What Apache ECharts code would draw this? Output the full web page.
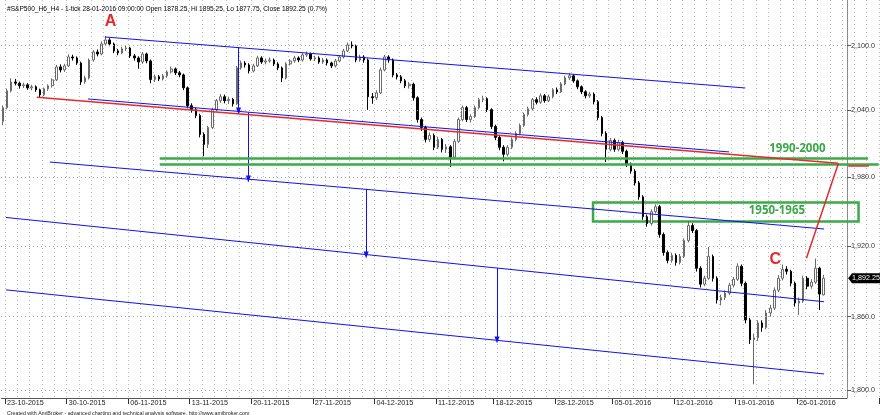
<!DOCTYPE html>
<html><head><meta charset="utf-8">
<script src="https://cdn.jsdelivr.net/npm/echarts@6/dist/echarts.min.js"></script>
<style>html,body{margin:0;padding:0;background:#fff}#c{width:880px;height:415px}</style>
</head><body><div id="c"></div>
<script>
const opens = [2030.0,2042.5,2058.0,2066.2,2065.0,2062.6,2063.5,2060.7,2061.7,2058.9,
2054.3,2059.8,2062.6,2068.1,2080.1,2077.3,2081.1,2089.4,2088.5,2083.8,
2066.2,2069.9,2086.6,2094.1,2092.2,2101.6,2105.4,2101.6,2095.1,2093.2,
2097.0,2097.8,2090.4,2088.5,2084.7,2092.2,2085.7,2068.5,2071.0,2069.0,
2071.8,2075.5,2078.3,2074.6,2072.7,2060.7,2044.3,2040.7,2035.3,2018.2,
2009.2,2024.5,2040.7,2048.9,2052.5,2048.9,2050.0,2046.1,2079.2,2083.8,
2082.0,2076.4,2081.1,2088.5,2084.7,2085.7,2086.6,2082.9,2079.2,2069.9,
2082.9,2085.7,2088.5,2086.6,2091.3,2092.2,2087.6,2088.5,2084.7,2086.6,
2083.8,2081.1,2085.7,2089.4,2095.1,2100.7,2099.7,2086.6,2089.4,2086.6,
2052.5,2051.6,2056.1,2077.3,2089.4,2086.6,2072.7,2070.9,2067.2,2062.6,
2064.0,2051.6,2031.7,2024.5,2013.7,2017.3,2006.6,2013.7,2004.8,2007.0,
1997.7,2011.9,2031.7,2042.5,2031.7,2034.4,2042.5,2049.8,2050.7,2040.7,
2025.4,2015.5,2006.6,2000.3,2006.6,2013.7,2019.1,2026.3,2036.2,2041.6,
2049.8,2047.5,2053.4,2048.9,2052.5,2058.9,2057.0,2064.4,2069.9,2071.8,
2067.2,2061.7,2057.1,2053.4,2055.0,2048.0,2033.5,2019.1,2004.8,2012.8,
2004.8,2011.0,2003.0,1991.5,1985.3,1974.8,1962.5,1945.2,1939.2,1949.5,
1953.9,1929.7,1914.3,1907.5,1911.8,1905.8,1910.9,1924.6,1937.5,1933.1,
1900.8,1887.3,1892.3,1910.9,1892.3,1873.9,1876.0,1879.7,1886.4,1891.4,
1902.5,1888.1,1857.3,1840.9,1842.5,1854.8,1851.0,1863.1,1867.2,1882.2,
1892.3,1899.9,1898.2,1888.1,1871.4,1873.1,1892.3,1885.6,1889.0,1900.8,
1878.25];
const closes = [2042.5,2058.0,2066.2,2065.0,2062.6,2063.5,2060.7,2061.7,2058.9,2054.3,
2059.8,2062.6,2068.1,2080.1,2077.3,2081.1,2089.4,2088.5,2083.8,2066.2,
2069.9,2086.6,2094.1,2092.2,2101.6,2105.4,2101.6,2095.1,2093.2,2097.0,
2097.8,2090.4,2088.5,2084.7,2092.2,2085.7,2068.5,2071.0,2069.0,2071.8,
2075.5,2078.3,2074.6,2072.7,2060.7,2044.3,2040.7,2035.3,2018.2,2009.2,
2024.5,2040.7,2048.9,2052.5,2048.9,2050.0,2046.1,2079.2,2083.8,2082.0,
2076.4,2081.1,2088.5,2084.7,2085.7,2086.6,2082.9,2079.2,2069.9,2082.9,
2085.7,2088.5,2086.6,2091.3,2092.2,2087.6,2088.5,2084.7,2086.6,2083.8,
2081.1,2085.7,2089.4,2095.1,2100.7,2099.7,2086.6,2089.4,2086.6,2052.5,
2051.6,2056.1,2077.3,2089.4,2086.6,2072.7,2070.9,2067.2,2062.6,2064.0,
2051.6,2031.7,2024.5,2013.7,2017.3,2006.6,2013.7,2004.8,2007.0,1997.7,
2011.9,2031.7,2042.5,2031.7,2034.4,2042.5,2049.8,2050.7,2040.7,2025.4,
2015.5,2006.6,2000.3,2006.6,2013.7,2019.1,2026.3,2036.2,2041.6,2049.8,
2047.5,2053.4,2048.9,2052.5,2058.9,2057.0,2064.4,2069.9,2071.8,2067.2,
2061.7,2057.1,2053.4,2055.0,2048.0,2033.5,2019.1,2004.8,2012.8,2004.8,
2011.0,2003.0,1991.5,1985.3,1974.8,1962.5,1945.2,1939.2,1949.5,1953.9,
1929.7,1914.3,1907.5,1911.8,1905.8,1910.9,1924.6,1937.5,1933.1,1900.8,
1887.3,1892.3,1910.9,1892.3,1873.9,1876.0,1879.7,1886.4,1891.4,1902.5,
1888.1,1857.3,1840.9,1842.5,1854.8,1851.0,1863.1,1867.2,1882.2,1892.3,
1899.9,1898.2,1888.1,1871.4,1873.1,1892.3,1885.6,1889.0,1900.8,1878.9,
1892.25];
const lows = [2026.5,2041.0,2056.5,2063.0,2060.0,2060.5,2059.0,2058.5,2057.0,2051.5,
2053.0,2058.0,2061.0,2067.0,2075.0,2075.5,2080.0,2086.0,2082.0,2063.5,
2064.5,2068.5,2085.0,2090.0,2091.0,2100.0,2099.5,2093.0,2091.0,2092.0,
2095.0,2088.5,2086.0,2078.5,2083.0,2083.5,2065.0,2066.0,2067.0,2067.5,
2070.0,2074.0,2072.5,2070.5,2058.5,2042.0,2038.0,2033.0,2015.5,1998.5,
2006.0,2023.0,2039.0,2047.0,2046.5,2046.0,2043.5,2045.0,2077.5,2079.5,
2074.0,2075.0,2080.0,2083.0,2082.5,2084.0,2081.0,2077.0,2066.0,2068.5,
2081.5,2084.0,2084.5,2085.0,2089.5,2086.0,2085.5,2083.0,2083.0,2081.5,
2079.0,2079.5,2084.5,2088.0,2094.0,2097.5,2084.5,2085.0,2084.0,2040.5,
2046.0,2049.5,2055.0,2076.0,2084.0,2070.5,2068.5,2065.0,2060.5,2060.0,
2049.0,2029.0,2021.5,2011.0,2011.5,2004.0,2005.0,2002.0,2001.5,1989.0,
1996.0,2010.5,2030.0,2029.5,2029.0,2033.0,2041.0,2047.5,2038.5,2023.0,
2013.0,2004.0,1994.0,1998.5,2005.0,2012.0,2017.5,2025.0,2034.5,2040.0,
2045.5,2046.0,2047.0,2047.5,2051.0,2055.0,2056.0,2063.0,2068.0,2065.5,
2059.5,2055.0,2051.0,2051.5,2045.5,2031.0,2016.5,1993.5,2003.0,2002.5,
2003.0,2000.5,1989.0,1983.0,1972.5,1960.0,1942.5,1936.5,1937.5,1948.0,
1927.0,1911.5,1905.0,1905.5,1903.0,1904.0,1909.5,1923.0,1931.0,1898.0,
1884.5,1885.5,1891.0,1889.5,1871.0,1869.5,1874.0,1878.0,1884.5,1890.0,
1885.5,1854.5,1837.5,1804.5,1840.0,1847.5,1849.5,1860.0,1865.5,1880.5,
1890.5,1895.5,1885.5,1868.5,1861.5,1871.5,1883.0,1883.5,1887.5,1865.5,
1877.75];
const highs = [2044.5,2060.0,2069.5,2069.0,2066.5,2065.5,2065.0,2063.5,2063.0,2060.0,
2061.0,2064.0,2069.5,2082.0,2082.5,2083.0,2092.0,2091.5,2090.0,2085.0,
2072.0,2088.0,2096.0,2096.5,2104.0,2109.0,2107.0,2103.0,2097.0,2099.0,
2100.0,2099.0,2092.0,2090.0,2094.0,2093.5,2087.0,2073.0,2072.5,2073.5,
2077.0,2080.5,2079.5,2076.5,2074.0,2062.0,2046.5,2042.5,2037.0,2020.0,
2026.0,2042.5,2050.5,2055.0,2054.5,2052.5,2051.5,2081.0,2086.0,2085.5,
2083.5,2083.0,2090.5,2090.0,2088.0,2089.0,2088.0,2084.5,2080.5,2084.5,
2087.5,2090.5,2090.0,2093.0,2094.5,2093.5,2090.5,2090.0,2088.5,2088.0,
2085.0,2087.5,2091.0,2097.0,2103.0,2104.0,2101.0,2091.5,2091.0,2088.0,
2056.0,2058.5,2079.5,2091.5,2091.0,2088.0,2074.5,2072.5,2069.0,2066.0,
2065.5,2053.0,2033.5,2026.0,2020.0,2019.0,2016.0,2015.0,2009.5,2008.5,
2014.0,2033.5,2044.5,2044.0,2036.5,2044.5,2051.5,2053.5,2052.0,2042.0,
2027.0,2017.0,2008.5,2008.5,2015.5,2021.0,2028.0,2038.0,2043.5,2051.5,
2052.0,2055.5,2055.0,2054.5,2060.5,2061.0,2066.0,2072.0,2074.5,2073.0,
2068.5,2063.0,2058.5,2057.0,2056.5,2049.5,2035.0,2021.0,2015.0,2014.5,
2013.5,2012.5,2004.5,1993.0,1987.0,1976.5,1964.0,1947.0,1951.5,1956.0,
1955.5,1931.5,1916.0,1914.0,1913.5,1913.0,1926.5,1941.5,1939.5,1934.5,
1902.5,1894.5,1919.0,1912.5,1894.0,1878.5,1882.0,1888.5,1893.5,1905.0,
1904.0,1889.5,1859.0,1846.0,1857.0,1857.0,1865.5,1870.0,1884.5,1895.0,
1904.0,1902.5,1899.5,1889.5,1876.0,1894.5,1894.0,1891.5,1909.0,1902.0,
1895.25];

const tickLabels = ['23-10-2015','30-10-2015','06-11-2015','13-11-2015','20-11-2015','27-11-2015','04-12-2015','11-12-2015','18-12-2015','28-12-2015','05-01-2016','12-01-2016','19-01-2016','26-01-2016'];
const tickBars = [1,16,31,46,61,76,91,106,120,135,149,164,179,194];
const yTicks = [1800,1860,1920,1980,2040,2100];
const yTickText = ['1,800.0','1,860.0','1,920.0','1,980.0','2,040.0','2,100.0'];
const lastPrice = 1892.25;
const lastPriceText = '1,892.25';
const headerText = '#S&P500_H6_H4 - 1-tick 28-01-2016 09:00:00 Open 1878.25, Hi 1895.25, Lo 1877.75, Close 1892.25 (0.7%)';
const footerText = 'Created with AmiBroker - advanced charting and technical analysis software. http://www.amibroker.com';

// trend lines: [barFrom, priceFrom, barTo, priceTo]
const blueLines = [[24.8,2108.2,180.9,2060.6],[20.7,2050.5,177.0,2002.4],[11.4,1993.4,200.1,1934.5],[0.72,1944.5,200.1,1872.5],[0.72,1882.5,200.1,1812.9]];
const redLines = [[8.25,2052.0,203.5,1992.3],[195.8,1909.3,203.6,1992.3]];
// arrows: [bar, priceFrom, priceTo]
const arrows = [[57.4,2098.2,2039.5],[59.8,2038.1,1978.3],[88.5,1969.5,1912.1],[120.4,1901.0,1840.7]];
// green levels: [barFrom, barTo, price]
const greenLevels = [[38.2,210.8,1996.7],[38.2,213.4,1991.6]];
const greenZone = [143.8,1957.5,208.5,1940.9];
const redAxisMark = [206.0,211.0,1990.4];
// annotations: [text, bar, price, colour]
const notes = [['A',26.2,2123,'#e8282b'],['C',188.2,1908.5,'#e8282b'],['1990-2000',193.6,2005.5,'#3aa84a'],['1950-1965',188.6,1950.5,'#3aa84a']];

const nSlots = 214;
const slot = 880 / nSlots;
const axisBar = 848 / slot - 0.5;
const tickEndBar = 852 / slot - 0.5;
const tagBar = 865 / slot - 0.5;
const yMin = 1793.5, yMax = 2143.4;
const FONT = 'Liberation Sans';
const RED = '#e8282b', BLUE = '#1010f0', GREEN = '#3aaa48';

const cats = [];
for (let i = 0; i < nSlots; i++) cats.push('');
tickBars.forEach((b, k) => { cats[b] = tickLabels[k]; });
const labelSet = new Set(tickBars);

const candles = [];
for (let i = 0; i < nSlots; i++) {
  candles.push(i < opens.length ? [opens[i], closes[i], lows[i], highs[i]] : '-');
}

const seg = (x0, y0, x1, y1) => [{ coord: [x0, y0] }, { coord: [x1, y1] }];

const chart = echarts.init(document.getElementById('c'), null, { renderer: 'canvas' });
chart.setOption({
  animation: false,
  backgroundColor: '#ffffff',
  title: [
    { text: headerText, left: 2, top: 1, textStyle: { fontSize: 6.6, fontWeight: 'normal', color: '#000', fontFamily: FONT } },
    { text: footerText, left: 2, top: 406, textStyle: { fontSize: 5.3, fontWeight: 'normal', color: '#222', fontFamily: FONT } }
  ],
  grid: { left: 0, right: 0, top: 0, bottom: 17, containLabel: false },
  xAxis: [
    {
      type: 'category', data: cats, boundaryGap: true,
      axisLine: { show: false },
      axisTick: { show: true, interval: (i) => labelSet.has(i), length: 6, lineStyle: { color: '#333' } },
      axisLabel: { show: true, interval: 0, align: 'left', margin: 2, fontSize: 7.2, color: '#222', fontFamily: FONT },
      splitLine: { show: true, interval: (i) => i % 3 === 1, lineStyle: { color: '#b8b8b8', type: [1, 3], width: 1 } }
    },
    { type: 'value', min: -0.5, max: nSlots - 0.5, show: false, axisLine: { onZero: false } }
  ],
  yAxis: [{
    type: 'log', logBase: 10, min: yMin, max: yMax, position: 'right', offset: -32,
    axisLine: { show: true, onZero: false, lineStyle: { color: '#8a8a8a' } },
    axisTick: { show: false }, axisLabel: { show: false }, splitLine: { show: false }
  }],
  series: [
    {
      type: 'candlestick', xAxisIndex: 0, yAxisIndex: 0, data: candles, barMaxWidth: 3,
      itemStyle: { color: '#ffffff', color0: '#000000', borderColor: '#6a6a6a', borderColor0: '#000000', borderWidth: 1 }
    },
    { // horizontal grid lines + axis labels
      type: 'line', xAxisIndex: 1, yAxisIndex: 0, data: [],
      markLine: {
        silent: true, symbol: ['none', 'none'],
        lineStyle: { color: '#a8a8a8', type: [1, 3], width: 1 },
        label: { show: true, position: 'end', distance: 4, formatter: '{b}', fontSize: 7.2, color: '#333', fontFamily: FONT },
        data: yTicks.map((v, k) => [{ coord: [-0.5, v], name: yTickText[k] }, { coord: [axisBar, v], name: yTickText[k] }])
      }
    },
    { // axis tick marks + bottom line
      type: 'line', xAxisIndex: 1, yAxisIndex: 0, data: [],
      markLine: {
        silent: true, symbol: ['none', 'none'], label: { show: false },
        lineStyle: { color: '#555', type: 'solid', width: 1 },
        data: yTicks.map(v => seg(axisBar, v, tickEndBar, v)).concat([seg(-0.5, yMin + 0.15, axisBar, yMin + 0.15)])
      }
    },
    { // blue trend lines
      type: 'line', xAxisIndex: 1, yAxisIndex: 0, data: [],
      markLine: {
        silent: true, symbol: ['none', 'none'], label: { show: false },
        lineStyle: { color: BLUE, type: 'solid', width: 1 },
        data: blueLines.map(l => seg(l[0], l[1], l[2], l[3]))
      }
    },
    { // blue arrows
      type: 'line', xAxisIndex: 1, yAxisIndex: 0, data: [],
      markLine: {
        silent: true, symbol: ['none', 'triangle'], symbolSize: [5, 7], label: { show: false },
        lineStyle: { color: BLUE, type: 'solid', width: 1 }, itemStyle: { color: BLUE },
        data: arrows.map(a => seg(a[0], a[1], a[0], a[2]))
      }
    },
    { // green levels
      type: 'line', xAxisIndex: 1, yAxisIndex: 0, data: [],
      markLine: {
        silent: true, symbol: ['none', 'none'], label: { show: false },
        lineStyle: { color: GREEN, type: 'solid', width: 2.5 },
        data: greenLevels.map(g => seg(g[0], g[2], g[1], g[2]))
      },
      markArea: {
        silent: true,
        itemStyle: { color: 'rgba(0,0,0,0)', borderColor: GREEN, borderWidth: 2.5 },
        data: [[{ coord: [greenZone[0], greenZone[1]] }, { coord: [greenZone[2], greenZone[3]] }]]
      }
    },
    { // red lines
      type: 'line', xAxisIndex: 1, yAxisIndex: 0, data: [],
      markLine: {
        silent: true, symbol: ['none', 'none'], label: { show: false },
        lineStyle: { color: RED, type: 'solid', width: 1.5 },
        data: redLines.map(l => seg(l[0], l[1], l[2], l[3])).concat([seg(redAxisMark[0], redAxisMark[2], redAxisMark[1], redAxisMark[2])])
      }
    },
    { // annotations + last price tag
      type: 'line', xAxisIndex: 1, yAxisIndex: 0, data: [],
      markPoint: {
        silent: true,
        data: notes.map(n => ({
          coord: [n[1], n[2]], symbol: 'circle', symbolSize: 1, itemStyle: { color: 'rgba(0,0,0,0)' },
          label: { show: true, position: 'inside', formatter: n[0], color: n[3], fontWeight: 'bold',
                   fontSize: n[0].length === 1 ? 16 : 11.5, fontFamily: n[0].length === 1 ? FONT : 'Open Sans' }
        })).concat([{
          coord: [tagBar, lastPrice], symbol: 'path://M0,5 L4,0 L32,0 L32,10 L4,10 Z', symbolSize: [32, 10],
          symbolKeepAspect: false, itemStyle: { color: '#000' },
          label: { show: true, position: 'inside', offset: [2, 0], formatter: lastPriceText, color: '#fff', fontSize: 7.2, fontFamily: FONT }
        }])
      }
    }
  ]
});
</script>
</body></html>
